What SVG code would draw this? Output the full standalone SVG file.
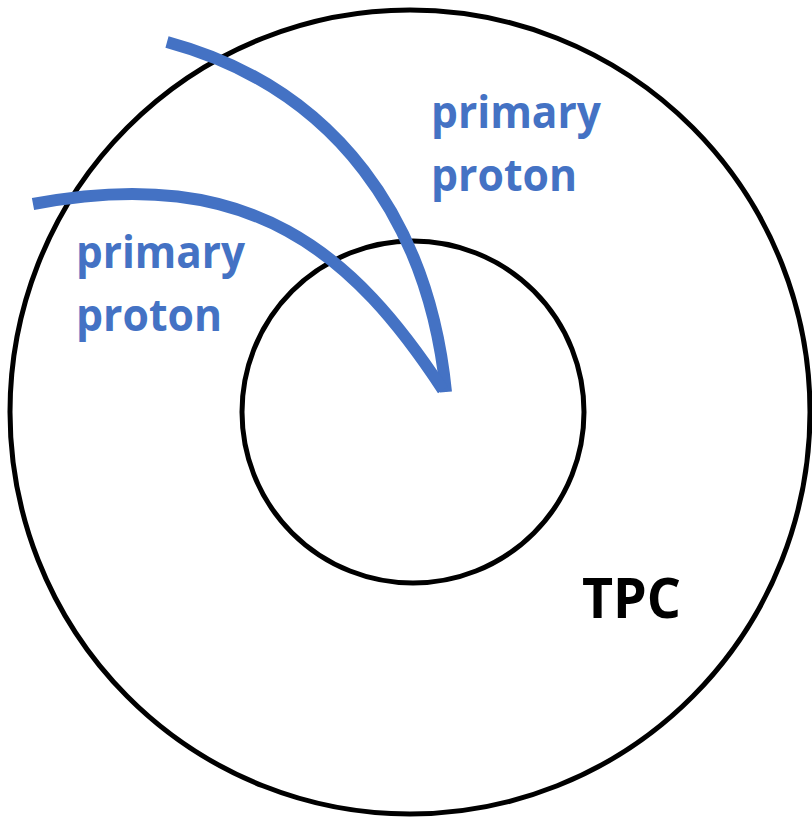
<svg xmlns="http://www.w3.org/2000/svg" width="812" height="817" viewBox="0 0 812 817">
<style>
.ring{fill:none;stroke:#000;stroke-width:5}
.track{fill:none;stroke:#4472C4;stroke-width:12;stroke-linecap:butt}
.lbl{font-family:"Open Sans","Liberation Sans",sans-serif;font-weight:bold;font-size:44px;fill:#4472C4}
.tpc{font-family:"Open Sans","Liberation Sans",sans-serif;font-weight:bold;font-size:56px;fill:#000}
</style>
<rect width="812" height="817" fill="#fff"/>
<g id="tpc-outer"><ellipse class="ring" cx="410" cy="412" rx="400" ry="402"/></g>
<g id="tpc-inner"><circle class="ring" cx="413" cy="412" r="171"/></g>
<g id="connectors">
<path class="track" d="M167,42 C337,88 429,222 446,392"/>
<path class="track" d="M33,204 C253,162 355,256 443,390"/>
</g>
<g id="label-proton-1">
<text class="lbl" x="431" y="128" textLength="170" lengthAdjust="spacingAndGlyphs">primary</text>
<text class="lbl" x="431" y="191" textLength="146" lengthAdjust="spacingAndGlyphs">proton</text>
</g>
<g id="label-proton-2">
<text class="lbl" x="76" y="268" textLength="169" lengthAdjust="spacingAndGlyphs">primary</text>
<text class="lbl" x="76" y="331" textLength="146" lengthAdjust="spacingAndGlyphs">proton</text>
</g>
<g id="label-tpc"><text class="tpc" x="582" y="618" textLength="99" lengthAdjust="spacingAndGlyphs">TPC</text></g>
</svg>
